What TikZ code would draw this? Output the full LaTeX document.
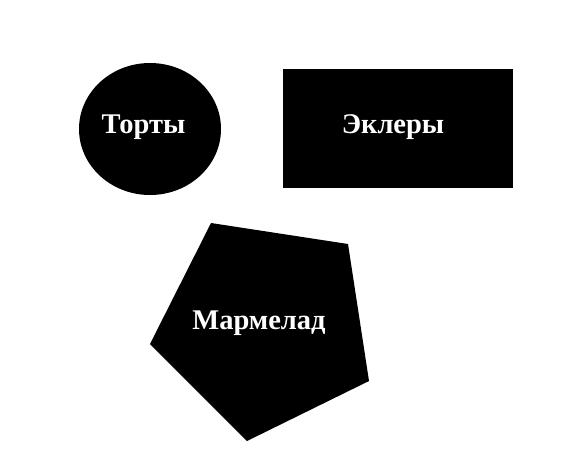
\documentclass[tikz,border=0pt]{standalone}
\usepackage{fontspec}
\setmainfont{Liberation Serif}
\usetikzlibrary{shapes.geometric}
\begin{document}
\begin{tikzpicture}[x=1pt,y=-1pt,
  shapefill/.style={fill=black,draw=none},
  lbl/.style={text=white,font=\bfseries\fontsize{28.5}{32}\selectfont,anchor=base,inner sep=0pt}]
\useasboundingbox (0,0) rectangle (577,453);
\fill[shapefill] (150,129) ellipse [x radius=71, y radius=66];
\fill[shapefill] (283,69) rectangle (513,188);
\fill[shapefill] (211,223) -- (348,244) -- (369,381) -- (247,441) -- (150,344) -- cycle;
\node[lbl] (torty) at (143.5,133) {Торты};
\node[lbl] (eklery) at (393,133) {Эклеры};
\node[lbl] (marmelad) at (259,329) {Мармелад};
\end{tikzpicture}
\end{document}
